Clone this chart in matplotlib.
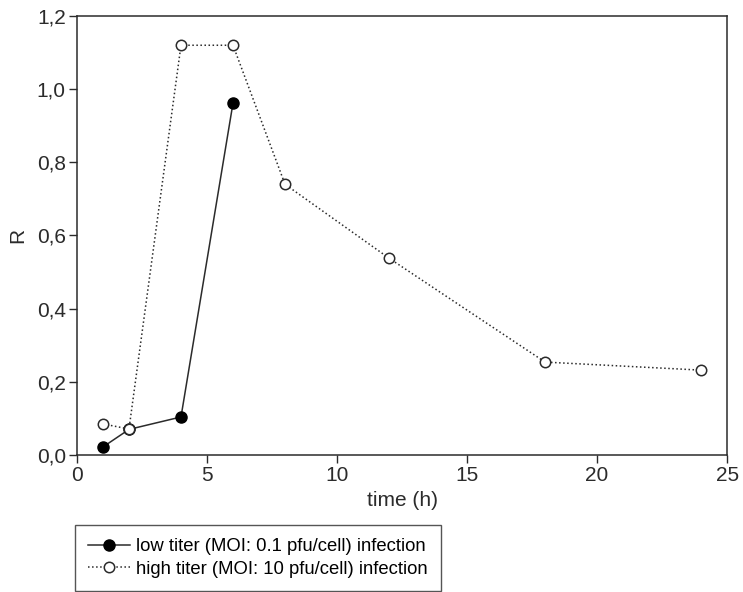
import matplotlib.pyplot as plt
from matplotlib.ticker import FuncFormatter

plt.rcParams['font.family'] = ['Liberation Sans', 'DejaVu Sans']

time_low = [1, 2, 4, 6]
r_low = [0.022, 0.07, 0.104, 0.962]
time_high = [1, 2, 4, 6, 8, 12, 18, 24]
r_high = [0.085, 0.071, 1.12, 1.12, 0.74, 0.538, 0.254, 0.232]

label_low = "low titer (MOI: 0.1 pfu/cell) infection"
label_high = "high titer (MOI: 10 pfu/cell) infection"

ink = "#2b2b2b"

fig = plt.figure(figsize=(7.43, 5.92), dpi=100)
ax = fig.add_axes([0.1036, 0.2314, 0.875, 0.7416])

ax.plot(time_low, r_low, linestyle='-', color=ink, linewidth=1.1,
        marker='o', markersize=8, markerfacecolor='black', markeredgecolor='black',
        label=label_low, zorder=2)
ax.plot(time_high, r_high, linestyle=':', color=ink, linewidth=1.1,
        marker='o', markersize=7.5, markerfacecolor='white', markeredgecolor=ink,
        markeredgewidth=1.1, label=label_high, zorder=3)

ax.set_xlim(0, 25)
ax.set_ylim(0, 1.2)
ax.set_xticks([0, 5, 10, 15, 20, 25])
ax.set_yticks([0, 0.2, 0.4, 0.6, 0.8, 1.0, 1.2])
ax.yaxis.set_major_formatter(FuncFormatter(lambda v, p: f"{v:.1f}".replace('.', ',')))
ax.tick_params(direction='out', length=6, width=1, labelsize=15, colors=ink, pad=2)
for s in ax.spines.values():
    s.set_color(ink)
    s.set_linewidth(1.1)

ax.set_xlabel("time (h)", fontsize=15, color=ink, labelpad=4)
ax.set_ylabel("R", fontsize=15, color=ink, labelpad=7)

handles, labels = ax.get_legend_handles_labels()
leg = fig.legend(handles, labels, loc='upper left',
                 bbox_to_anchor=(0.101, 0.113), borderaxespad=0, fontsize=13.3,
                 frameon=True, fancybox=False, edgecolor=ink, handlelength=2.3,
                 handletextpad=0.3, borderpad=0.7, labelspacing=0.3)
leg.get_frame().set_linewidth(1.0)

fig.savefig("out.png", dpi=100)
